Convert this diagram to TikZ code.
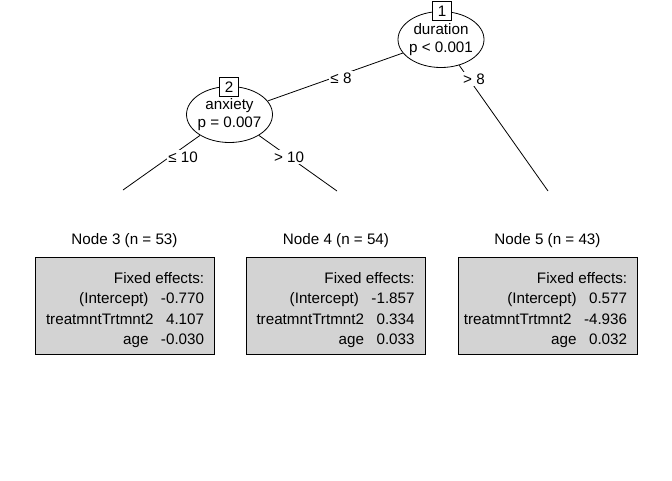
\documentclass[tikz,border=0pt]{standalone}
\usepackage{fontspec}
\setmainfont{Liberation Sans}
\usetikzlibrary{shapes.geometric}
\definecolor{panelgray}{HTML}{D3D3D3}
\newcommand{\plotfont}{\fontsize{15.2}{20.5}\selectfont}
\newcommand{\coefgap}{\hspace{12.5pt}}

\begin{document}
\begin{tikzpicture}[x=1pt,y=-1pt,line width=0.8pt,
	inner/.style={draw,ellipse,fill=white,minimum width=86pt,minimum height=56pt,inner sep=-3pt,align=center,font=\plotfont},
	idbox/.style={draw,fill=white,minimum size=19pt,inner sep=0pt,font=\plotfont},
	edgelab/.style={fill=white,inner sep=1.5pt,font=\plotfont},
	paneltitle/.style={font=\plotfont},
	panel/.style={draw,fill=panelgray,minimum width=179pt,minimum height=97pt,inner sep=0pt},
	fixef/.style={anchor=east,inner sep=0pt,font=\plotfont}]
	\useasboundingbox (0,0) rectangle (672,480);

	\node[inner] (n1) at (441,39.5) {duration\\[-3pt]p < 0.001};
	\node[idbox] (id1) at (442,11) {1};
	\node[inner] (n2) at (229.5,114.5) {anxiety\\[-3pt]p = 0.007};
	\node[idbox] (id2) at (229,87) {2};

	\coordinate (t3) at (123,190);
	\coordinate (t4) at (337,191);
	\coordinate (t5) at (548,191);

	\draw (n1) -- (n2);
	\draw (n1) -- (t5);
	\draw (n2) -- (t3);
	\draw (n2) -- (t4);

	\node[edgelab] (e12) at (341,78) {≤ 8};
	\node[edgelab] (e15) at (474,79) {> 8};
	\node[edgelab] (e23) at (183,157) {≤ 10};
	\node[edgelab] (e24) at (289,157) {> 10};

	\node[paneltitle] (lab3) at (124.5,241) {Node 3 (n = 53)};
	\node[panel] (box3) at (124.5,305.5) {};
	\node[fixef] (fx3) at (204.5,310) {\begin{tabular}{@{}r@{}}
		Fixed effects:\\
		(Intercept)\coefgap-0.770\\
		treatmntTrtmnt2\coefgap4.107\\
		age\coefgap-0.030
	\end{tabular}};

	\node[paneltitle] (lab4) at (336,241) {Node 4 (n = 54)};
	\node[panel] (box4) at (336,305.5) {};
	\node[fixef] (fx4) at (415,310) {\begin{tabular}{@{}r@{}}
		Fixed effects:\\
		(Intercept)\coefgap-1.857\\
		treatmntTrtmnt2\coefgap0.334\\
		age\coefgap0.033
	\end{tabular}};

	\node[paneltitle] (lab5) at (547.5,241) {Node 5 (n = 43)};
	\node[panel] (box5) at (547.5,305.5) {};
	\node[fixef] (fx5) at (627.5,310) {\begin{tabular}{@{}r@{}}
		Fixed effects:\\
		(Intercept)\coefgap0.577\\
		treatmntTrtmnt2\coefgap-4.936\\
		age\coefgap0.032
	\end{tabular}};
\end{tikzpicture}
\end{document}
